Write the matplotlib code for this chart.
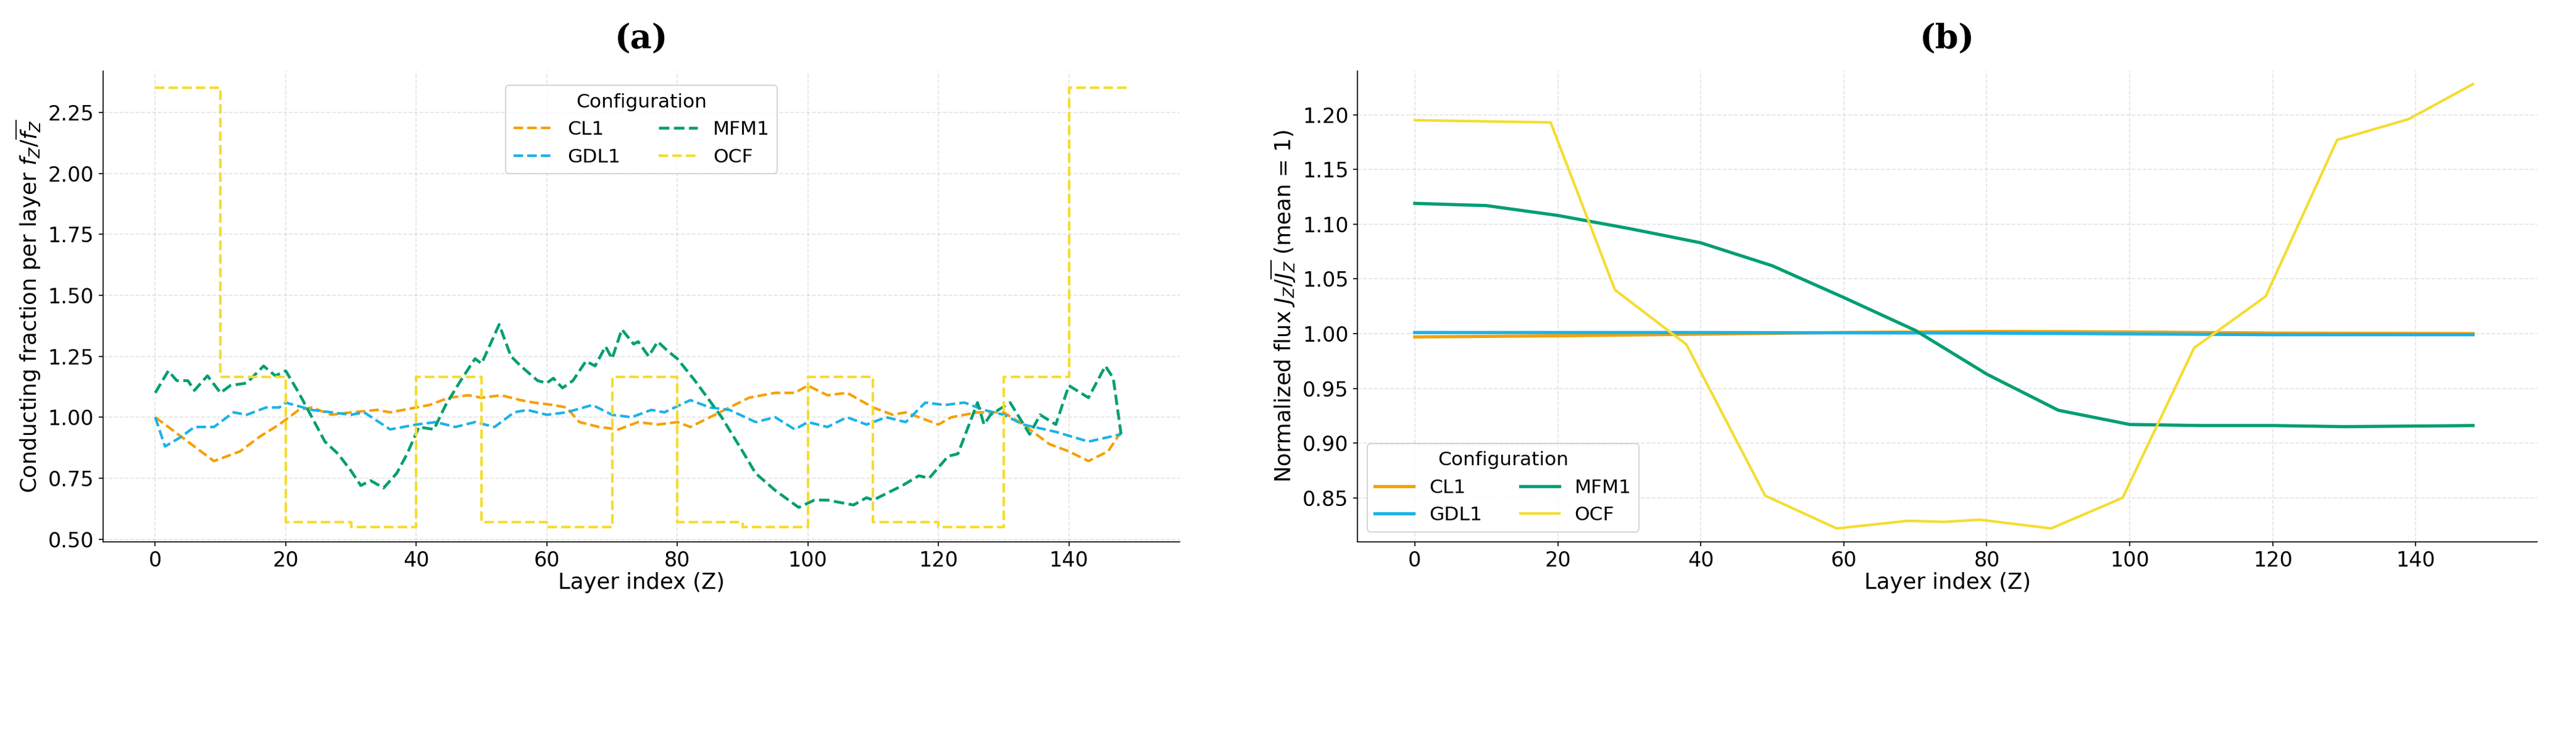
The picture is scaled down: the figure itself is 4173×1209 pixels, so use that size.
import numpy as np
import matplotlib.pyplot as plt

# ---- panel (a): conducting fraction per layer ----
ocf_a_starts = [0, 10, 20, 30, 40, 50, 60, 70, 80, 90, 100, 110, 120, 130, 140]
ocf_a_vals = [2.35, 1.165, 0.57, 0.55, 1.165, 0.57, 0.55, 1.165, 0.57, 0.55,
              1.165, 0.57, 0.55, 1.165, 2.35]

mfm_a_x = [0, 2, 3.3, 5, 6, 8, 10, 11.5, 14, 16.6, 18.4, 20, 22, 24, 26, 28, 30, 31.5,
           33, 35, 37, 38.6, 40.4, 42.7, 44.5, 46.8, 49, 50, 52.7, 54.5, 56, 58.6, 60,
           61, 62.4, 64, 66, 67.4, 69, 70, 71.5, 73.3, 74, 75.6, 77, 78.6, 80, 82.7,
           86.8, 90, 92, 95, 98.6, 101, 103, 107, 109, 110, 114.5, 117, 118.6, 121.5,
           123, 126, 127, 128, 131, 134, 135.6, 138, 140, 143, 145.6, 146.8, 148]
mfm_a_y = [1.10, 1.19, 1.15, 1.15, 1.11, 1.17, 1.10, 1.13, 1.14, 1.21, 1.17, 1.19, 1.10,
           1.00, 0.90, 0.85, 0.78, 0.72, 0.74, 0.71, 0.77, 0.85, 0.96, 0.95, 1.05, 1.15,
           1.24, 1.22, 1.38, 1.25, 1.21, 1.15, 1.14, 1.16, 1.12, 1.15, 1.23, 1.21, 1.29,
           1.24, 1.36, 1.30, 1.31, 1.25, 1.31, 1.27, 1.24, 1.15, 1.00, 0.86, 0.77, 0.70,
           0.63, 0.66, 0.66, 0.64, 0.67, 0.66, 0.72, 0.76, 0.75, 0.84, 0.85, 1.06, 0.97,
           1.01, 1.06, 0.93, 1.01, 0.97, 1.13, 1.08, 1.21, 1.16, 0.93]

cl_a_x = [0, 5, 9, 13, 16, 19, 22, 24, 27, 30, 34, 36, 40, 42, 45, 48, 50, 53, 56, 58,
          61, 63, 65, 68, 71, 74, 77, 80, 82, 85, 88, 91, 95, 98, 100, 103, 106, 110,
          113, 115, 118, 120, 122, 126, 130, 133, 137, 140, 143, 146, 148]
cl_a_y = [1.00, 0.90, 0.82, 0.86, 0.92, 0.97, 1.03, 1.04, 1.01, 1.02, 1.03, 1.02, 1.04,
          1.05, 1.08, 1.09, 1.08, 1.09, 1.07, 1.06, 1.05, 1.04, 0.98, 0.96, 0.95, 0.98,
          0.97, 0.98, 0.96, 1.00, 1.04, 1.08, 1.10, 1.10, 1.13, 1.09, 1.10, 1.04, 1.01,
          1.02, 0.99, 0.97, 1.00, 1.02, 1.02, 0.97, 0.89, 0.86, 0.82, 0.86, 0.94]

gdl_a_x = [0, 1.5, 4, 6, 9, 12, 14, 17, 19, 20, 24, 27, 30, 32, 36, 40, 43, 46, 49, 52,
           55, 57, 60, 63, 67, 70, 73, 76, 78, 82, 85, 88, 92, 95, 98, 100, 103, 106,
           109, 112, 115, 118, 121, 124, 127, 130, 133, 138, 143, 148]
gdl_a_y = [1.00, 0.88, 0.92, 0.96, 0.96, 1.02, 1.01, 1.04, 1.04, 1.06, 1.03, 1.02, 1.01,
           1.02, 0.95, 0.97, 0.98, 0.96, 0.98, 0.96, 1.02, 1.03, 1.01, 1.02, 1.05, 1.01,
           1.00, 1.03, 1.02, 1.07, 1.04, 1.03, 0.98, 1.00, 0.95, 0.98, 0.96, 1.00, 0.97,
           1.00, 0.98, 1.06, 1.05, 1.06, 1.03, 1.01, 0.97, 0.94, 0.90, 0.93]

# ---- panel (b): normalized flux ----
ocf_b_x = [0, 19, 28, 38, 49, 59, 69, 74, 79, 89, 99, 109, 119, 129, 139, 148]
ocf_b_y = [1.195, 1.193, 1.04, 0.99, 0.852, 0.822, 0.829, 0.828, 0.830, 0.822, 0.850,
           0.987, 1.034, 1.177, 1.196, 1.228]
mfm_b_x = [0, 10, 20, 30, 40, 50, 60, 70, 80, 90, 100, 110, 120, 130, 148]
mfm_b_y = [1.119, 1.117, 1.108, 1.096, 1.083, 1.062, 1.033, 1.003, 0.963, 0.930, 0.917,
           0.916, 0.916, 0.915, 0.916]
cl_b_x = [0, 20, 40, 60, 80, 100, 120, 148]
cl_b_y = [0.997, 0.998, 0.9995, 1.001, 1.002, 1.0015, 1.0005, 1.000]
gdl_b_x = [0, 40, 80, 120, 148]
gdl_b_y = [1.001, 1.001, 1.0005, 0.999, 0.999]

C_CL, C_GDL, C_MFM, C_OCF = "#f5a000", "#1ab2e8", "#009e73", "#f5dc30"

fig = plt.figure(figsize=(27.82, 8.06), dpi=150)
ax1 = fig.add_axes([0.040, 0.275, 0.418, 0.63])
ax2 = fig.add_axes([0.527, 0.275, 0.458, 0.63])

ocf_x = np.append(ocf_a_starts, 149)
ocf_y = np.append(ocf_a_vals, ocf_a_vals[-1])
ax1.plot(cl_a_x, cl_a_y, "--", color=C_CL, lw=2, label="CL1")
ax1.plot(gdl_a_x, gdl_a_y, "--", color=C_GDL, lw=2, label="GDL1")
ax1.plot(mfm_a_x, mfm_a_y, "--", color=C_MFM, lw=2.2, label="MFM1")
ax1.step(ocf_x, ocf_y, "--", where="post", color=C_OCF, lw=2, label="OCF")
ax1.set_ylim(0.49, 2.42)
ax1.set_yticks([0.5, 0.75, 1.0, 1.25, 1.5, 1.75, 2.0, 2.25])
ax1.set_ylabel(r"Conducting fraction per layer $f_Z/\overline{f_Z}$", fontsize=17)
ax1.legend(title="Configuration", ncol=2, loc="upper center", fontsize=15,
           title_fontsize=15, bbox_to_anchor=(0.5, 0.99))

ax2.plot(cl_b_x, cl_b_y, color=C_CL, lw=2.5, label="CL1")
ax2.plot(gdl_b_x, gdl_b_y, color=C_GDL, lw=2.5, label="GDL1")
ax2.plot(mfm_b_x, mfm_b_y, color=C_MFM, lw=2.5, label="MFM1")
ax2.plot(ocf_b_x, ocf_b_y, color=C_OCF, lw=2, label="OCF")
ax2.set_ylim(0.81, 1.24)
ax2.set_yticks([0.85, 0.9, 0.95, 1.0, 1.05, 1.1, 1.15, 1.2])
ax2.set_ylabel(r"Normalized flux $J_Z/\overline{J_Z}$ (mean = 1)", fontsize=17)
ax2.legend(title="Configuration", ncol=2, loc="lower left", fontsize=15,
           title_fontsize=15)

for ax, tag in ((ax1, "(a)"), (ax2, "(b)")):
    ax.set_xlim(-8, 157)
    ax.set_xticks(range(0, 141, 20))
    ax.set_xlabel("Layer index (Z)", fontsize=17, labelpad=1)
    ax.tick_params(labelsize=16)
    ax.grid(True, ls="--", alpha=0.35)
    ax.spines["top"].set_visible(False)
    ax.spines["right"].set_visible(False)
    ax.set_title(tag, fontsize=26, fontweight="bold", family="serif", pad=18)

fig.savefig("out.png", dpi=150)
